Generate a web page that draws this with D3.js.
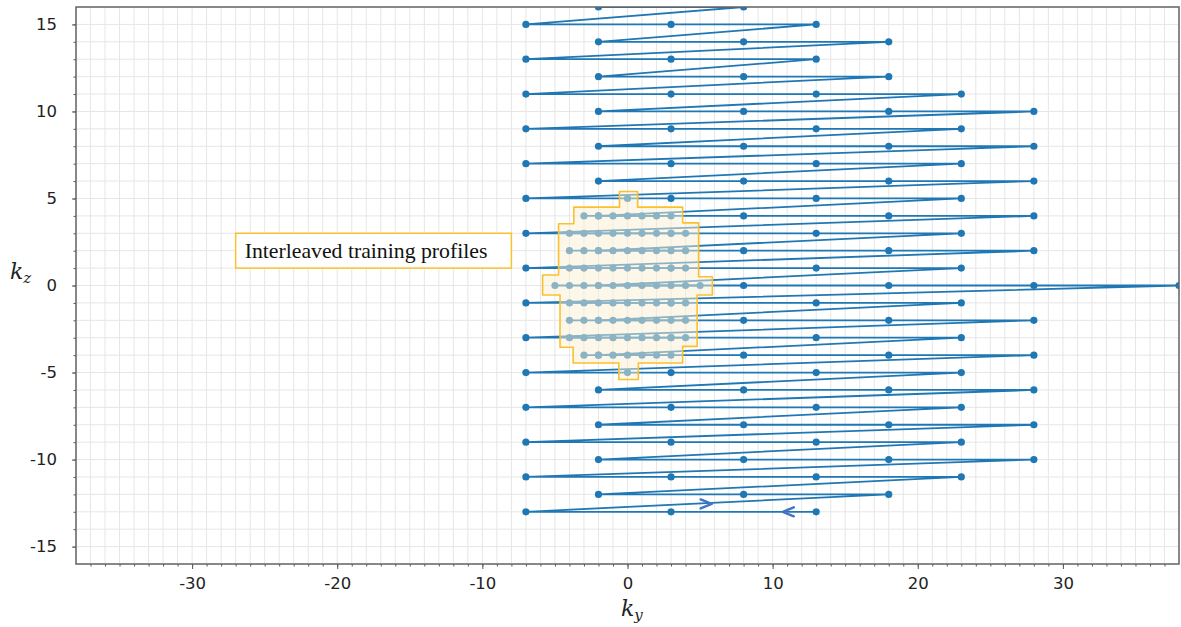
<!DOCTYPE html>
<html>
<head>
<meta charset="utf-8">
<script src="https://cdn.jsdelivr.net/npm/d3@7"></script>
<style>
  body { margin: 0; background: #fff; }
  svg { display: block; }
</style>
</head>
<body>
<div id="chart"></div>
<script>
// k-space rows of the sampling trajectory, in the order they are traversed
const trajKz = [-13, -12, -11, -10, -9, -8, -7, -6, -5, -4, -3, -2, -1, 0,
                1, 2, 3, 4, 5, 6, 7, 8, 9, 10, 11, 12, 13, 14, 15, 16];
const trajKy = [
    [13, 3, -7], [18, 8, -2], [23, 13, 3, -7], [28, 18, 8, -2],
    [23, 13, 3, -7], [28, 18, 8, -2], [23, 13, 3, -7], [28, 18, 8, -2],
    [23, 13, 3, -7], [28, 18, 8, -2], [23, 13, 3, -7], [28, 18, 8, -2],
    [23, 13, 3, -7], [38, 28, 18, 8, -2],
    [23, 13, 3, -7], [28, 18, 8, -2], [23, 13, 3, -7], [28, 18, 8, -2],
    [23, 13, 3, -7], [28, 18, 8, -2], [23, 13, 3, -7], [28, 18, 8, -2],
    [23, 13, 3, -7], [28, 18, 8, -2], [23, 13, 3, -7],
    [18, 8, -2], [13, 3, -7], [18, 8, -2], [13, 3, -7], [8, -2]
];

// interleaved training profiles (dense centre of k-space)
const trainKz = [5, 4, 3, 2, 1, 0, -1, -2, -3, -4, -5];
const trainKy = [
    [0],
    [-3, -2, -1, 0, 1, 2, 3],
    [-4, -3, -2, -1, 0, 1, 2, 3, 4],
    [-4, -3, -2, -1, 0, 1, 2, 3, 4],
    [-4, -3, -2, -1, 0, 1, 2, 3, 4],
    [-5, -4, -3, -2, -1, 0, 1, 2, 3, 4, 5],
    [-4, -3, -2, -1, 0, 1, 2, 3, 4],
    [-4, -3, -2, -1, 0, 1, 2, 3, 4],
    [-4, -3, -2, -1, 0, 1, 2, 3, 4],
    [-3, -2, -1, 0, 1, 2, 3],
    [0]
];

// outline drawn round the training region (ky, kz)
const regionOutline = [
    [-0.55, 5.4], [0.7, 5.4], [0.7, 4.5], [3.8, 4.5], [3.8, 3.6], [4.9, 3.6],
    [4.9, 0.5], [5.85, 0.5], [5.85, -0.55], [4.8, -0.55], [4.8, -3.5],
    [3.8, -3.5], [3.8, -4.45], [0.75, -4.45], [0.75, -5.4], [-0.6, -5.4],
    [-0.6, -4.45], [-3.75, -4.45], [-3.75, -3.55], [-4.65, -3.55],
    [-4.65, -0.55], [-5.85, -0.55], [-5.85, 0.6], [-4.75, 0.6],
    [-4.75, 3.55], [-3.7, 3.55], [-3.7, 4.5], [-0.55, 4.5]
];

// direction arrows on the first rows (ky, kz, direction)
const arrowMarks = [[5.8, -12.55, 1], [10.7, -13, -1]];

const xTicks = [-30, -20, -10, 0, 10, 20, 30];
const yTicks = [-15, -10, -5, 0, 5, 10, 15];

const width = 1181, height = 627;
const margin = { top: 7, right: 2, bottom: 63, left: 76 };

const svg = d3.select("#chart").append("svg")
    .attr("width", width)
    .attr("height", height);

const x = d3.scaleLinear().domain([-38, 38]).range([margin.left, width - margin.right]);
const y = d3.scaleLinear().domain([-16, 16]).range([height - margin.bottom, margin.top]);

svg.append("clipPath").attr("id", "plotClip")
    .append("rect")
    .attr("x", x(-38)).attr("y", y(16))
    .attr("width", x(38) - x(-38)).attr("height", y(-16) - y(16));

// grid every unit
const grid = svg.append("g");
grid.selectAll(".gx").data(d3.range(-38, 39)).join("line")
    .attr("x1", d => x(d)).attr("x2", d => x(d))
    .attr("y1", y(16)).attr("y2", y(-16))
    .attr("stroke", "#e6e6e6").attr("stroke-width", 1);
grid.selectAll(".gy").data(d3.range(-16, 17)).join("line")
    .attr("y1", d => y(d)).attr("y2", d => y(d))
    .attr("x1", x(-38)).attr("x2", x(38))
    .attr("stroke", "#e6e6e6").attr("stroke-width", 1);

const plot = svg.append("g").attr("clip-path", "url(#plotClip)");
const blue = "#1f77b4";

// flatten the trajectory into one path
const trajPts = [];
trajKz.forEach((kz, i) => trajKy[i].forEach(ky => trajPts.push([ky, kz])));

const line = d3.line().x(d => x(d[0])).y(d => y(d[1]));

plot.append("path")
    .attr("d", line(trajPts))
    .attr("fill", "none")
    .attr("stroke", blue)
    .attr("stroke-width", 1.8)
    .attr("stroke-linejoin", "round");

plot.selectAll(".tp").data(trajPts).join("circle")
    .attr("cx", d => x(d[0])).attr("cy", d => y(d[1]))
    .attr("r", 3.6).attr("fill", blue);

// training profiles
trainKz.forEach((kz, i) => {
    const pts = trainKy[i].map(ky => [ky, kz]);
    plot.append("path")
        .attr("d", line(pts))
        .attr("fill", "none")
        .attr("stroke", blue)
        .attr("stroke-width", 1.8);
    plot.selectAll(null).data(pts).join("circle")
        .attr("cx", d => x(d[0])).attr("cy", d => y(d[1]))
        .attr("r", 3.6).attr("fill", blue);
});

// translucent region over the training profiles
plot.append("path")
    .attr("d", d3.line().x(d => x(d[0])).y(d => y(d[1]))(regionOutline) + "Z")
    .attr("fill", "rgb(250,240,212)")
    .attr("fill-opacity", 0.5)
    .attr("stroke", "#fbc02d")
    .attr("stroke-width", 1.6)
    .attr("stroke-linejoin", "round");

// arrows
arrowMarks.forEach(([ky, kz, dir]) => {
    const px = x(ky), py = y(kz);
    plot.append("path")
        .attr("d", `M${px - dir * 11},${py - 4.5} L${px},${py} L${px - dir * 11},${py + 4.5}`)
        .attr("fill", "none")
        .attr("stroke", "#4472c4")
        .attr("stroke-width", 2.4)
        .attr("stroke-linecap", "round")
        .attr("stroke-linejoin", "round");
});

// annotation box
const box = svg.append("g");
box.append("rect")
    .attr("x", x(-27)).attr("y", y(3))
    .attr("width", x(-8) - x(-27)).attr("height", y(1) - y(3))
    .attr("fill", "#fff")
    .attr("stroke", "#fbc02d")
    .attr("stroke-width", 1.5);
const label = box.append("text")
    .attr("x", x(-27) + 9)
    .attr("y", y(2) + 7)
    .attr("font-family", "'Liberation Serif', 'DejaVu Serif', serif")
    .attr("font-size", 20)
    .attr("fill", "#111")
    .text("Interleaved training profiles");
const targetW = 243;
const w0 = label.node().getComputedTextLength();
label.attr("font-size", 20 * targetW / w0);

// axes
const fmt = d => String(d);
svg.append("g")
    .attr("transform", `translate(0,${y(-16)})`)
    .call(d3.axisBottom(x).tickValues(xTicks).tickFormat(fmt).tickSize(5).tickPadding(8));
svg.append("g")
    .attr("transform", `translate(0,${y(-16)})`)
    .call(d3.axisBottom(x).tickValues(d3.range(-37, 38)).tickFormat("").tickSize(2.5));

svg.append("g")
    .attr("transform", `translate(${x(-38)},0)`)
    .call(d3.axisLeft(y).tickValues(yTicks).tickFormat(fmt).tickSize(4).tickPadding(15));
svg.append("g")
    .attr("transform", `translate(${x(-38)},0)`)
    .call(d3.axisLeft(y).tickValues(d3.range(-15, 16)).tickFormat("").tickSize(2.5));

svg.selectAll(".tick line").attr("stroke", "#555");
svg.selectAll(".tick text")
    .attr("font-family", "'DejaVu Sans', sans-serif")
    .attr("font-size", 16.5)
    .attr("fill", "#222");

// frame
svg.selectAll(".domain").remove();
svg.append("rect")
    .attr("x", x(-38)).attr("y", y(16))
    .attr("width", x(38) - x(-38)).attr("height", y(-16) - y(16))
    .attr("fill", "none")
    .attr("stroke", "#666")
    .attr("stroke-width", 1.5);

// axis labels
const kyLabel = svg.append("text")
    .attr("x", 621).attr("y", 616)
    .attr("font-family", "'DejaVu Serif', 'Liberation Serif', serif")
    .attr("font-style", "italic")
    .attr("font-size", 22)
    .attr("fill", "#222");
kyLabel.append("tspan").text("k");
kyLabel.append("tspan").attr("dy", 4).attr("font-size", 15).text("y");

const kzLabel = svg.append("text")
    .attr("x", 10).attr("y", 279)
    .attr("font-family", "'DejaVu Serif', 'Liberation Serif', serif")
    .attr("font-style", "italic")
    .attr("font-size", 22)
    .attr("fill", "#222");
kzLabel.append("tspan").text("k");
kzLabel.append("tspan").attr("dy", 4).attr("font-size", 15).text("z");
</script>
</body>
</html>
